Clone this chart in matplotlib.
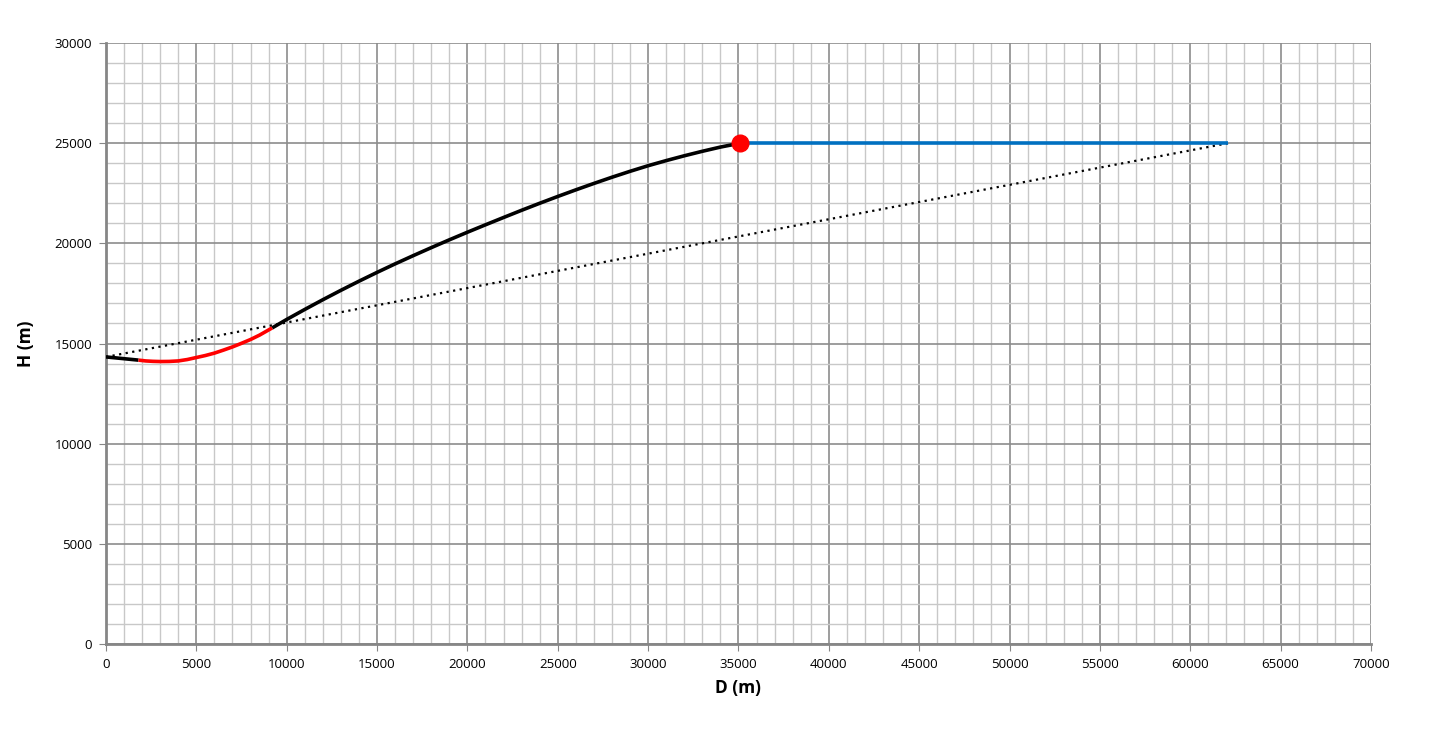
import matplotlib
matplotlib.use("Agg")
import matplotlib.pyplot as plt
from matplotlib.ticker import MultipleLocator

plt.rcParams['font.family'] = ['Open Sans', 'DejaVu Sans']

# descent segment (black), short start
start_d = [0, 1800]
start_h = [14330, 14170]

# pull-up segment (red)
pull_d = [1800, 2200, 2600, 3000, 3500, 4000, 4500, 5000, 5500, 6000, 6500,
          7000, 7500, 8000, 8500, 9200]
pull_h = [14170, 14130, 14110, 14100, 14105, 14130, 14200, 14300, 14400, 14520, 14670,
          14830, 15010, 15200, 15420, 15780]

# climb (black)
climb_d = [9200, 10000, 11000, 12000, 13000, 14000, 15000, 16000, 17000, 18000, 19000,
           20000, 21000, 22000, 23000, 24000, 25000, 26000, 27000, 28000, 29000,
           30000, 31000, 32000, 33000, 34000, 35100]
climb_h = [15780, 16200, 16700, 17185, 17655, 18110, 18550, 18975, 19385, 19785, 20175,
           20555, 20925, 21290, 21650, 22000, 22340, 22670, 22990, 23300, 23595,
           23875, 24130, 24370, 24595, 24805, 25000]

# level flight (blue)
level_d = [35100, 62100]
level_h = [25000, 25000]

# straight reference (dotted)
ref_d = [0, 62100]
ref_h = [14330, 25000]

top_d, top_h = 35100, 25000

fig = plt.figure(figsize=(14.36, 7.29), dpi=100)
ax = fig.add_axes([0.0738, 0.1166, 0.8809, 0.8244])

ax.plot(ref_d, ref_h, color='black', lw=1.6, linestyle=(0, (1, 2)), zorder=3)
ax.plot(start_d, start_h, color='black', lw=2.6, zorder=4, solid_capstyle='butt')
ax.plot(pull_d, pull_h, color='red', lw=2.6, zorder=4, solid_capstyle='butt')
ax.plot(climb_d, climb_h, color='black', lw=2.6, zorder=4, solid_capstyle='butt')
ax.plot(level_d, level_h, color='#0070c0', lw=2.6, zorder=4, solid_capstyle='butt')
ax.plot([top_d], [top_h], 'o', color='red', ms=12, zorder=5)

ax.set_xlim(0, 70000)
ax.set_ylim(0, 30000)
ax.xaxis.set_major_locator(MultipleLocator(5000))
ax.xaxis.set_minor_locator(MultipleLocator(1000))
ax.yaxis.set_major_locator(MultipleLocator(5000))
ax.yaxis.set_minor_locator(MultipleLocator(1000))
ax.grid(which='major', color='#8c8c8c', lw=1.2)
ax.grid(which='minor', color='#c8c8c8', lw=1.0)
ax.set_axisbelow(True)

for s in ['top', 'right']:
    ax.spines[s].set_visible(False)
for s in ['left', 'bottom']:
    ax.spines[s].set_color('#868686')
    ax.spines[s].set_linewidth(2)
ax.tick_params(which='major', direction='out', length=5, color='#868686', labelsize=9.5, pad=5)
ax.tick_params(which='minor', length=0)

ax.set_xlabel('D (m)', fontsize=12.5, fontweight='bold', labelpad=6)
ax.set_ylabel('H (m)', fontsize=12.5, fontweight='bold', labelpad=14)

fig.savefig('out.png', dpi=100)
